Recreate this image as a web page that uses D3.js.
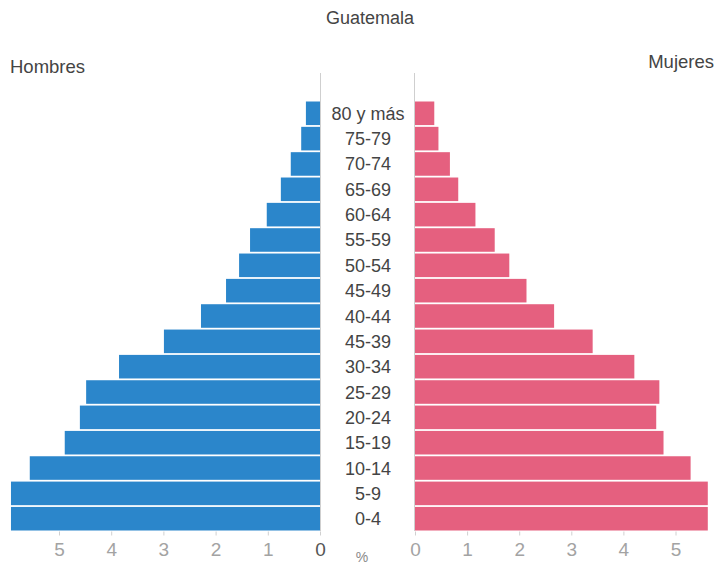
<!DOCTYPE html>
<html>
<head>
<meta charset="utf-8">
<script src="https://cdn.jsdelivr.net/npm/d3@7"></script>
<style>
  html, body { margin: 0; padding: 0; background: #ffffff; }
  svg { display: block; }
  text { font-family: "Liberation Sans", Arial, Helvetica, sans-serif; }
</style>
</head>
<body>
<svg id="chart" width="716" height="567"></svg>
<script>
const title = "Guatemala";
const leftLabel = "Hombres";
const rightLabel = "Mujeres";
const unitLabel = "%";
const ageGroups = ["80 y más","75-79","70-74","65-69","60-64","55-59","50-54","45-49","40-44","45-39","30-34","25-29","20-24","15-19","10-14","5-9","0-4"];
const men   = [0.27,0.36,0.56,0.75,1.02,1.34,1.55,1.80,2.28,2.99,3.85,4.48,4.60,4.89,5.56,5.92,5.92];
const women = [0.37,0.45,0.67,0.83,1.16,1.53,1.81,2.14,2.67,3.41,4.21,4.69,4.63,4.77,5.29,5.62,5.62];
const tickValues = [0,1,2,3,4,5];

const svg = d3.select("#chart");
const blue = "#2b86cb";
const pink = "#e5607f";

const y = d3.scaleBand().domain(ageGroups).range([101.5, 530.5]).paddingInner(0.07).paddingOuter(0);
const xL = d3.scaleLinear().domain([0, 6]).range([320, 320 - 6 * 52.2]);
const xR = d3.scaleLinear().domain([0, 6]).range([415, 415 + 6 * 52.1]);

// center guide lines
svg.append("line").attr("x1", 320.5).attr("x2", 320.5).attr("y1", 73).attr("y2", 531).attr("stroke", "#cfcfcf").attr("stroke-width", 1);
svg.append("line").attr("x1", 414.5).attr("x2", 414.5).attr("y1", 73).attr("y2", 531).attr("stroke", "#cfcfcf").attr("stroke-width", 1);

const data = ageGroups.map((a, i) => ({age: a, m: men[i], w: women[i]}));

svg.append("g").selectAll("rect").data(data).join("rect")
  .attr("x", d => xL(d.m))
  .attr("y", d => y(d.age))
  .attr("width", d => xL(0) - xL(d.m))
  .attr("height", y.bandwidth())
  .attr("fill", blue);

svg.append("g").selectAll("rect").data(data).join("rect")
  .attr("x", xR(0))
  .attr("y", d => y(d.age))
  .attr("width", d => xR(d.w) - xR(0))
  .attr("height", y.bandwidth())
  .attr("fill", pink);

svg.append("g").selectAll("text").data(data).join("text")
  .attr("x", 368)
  .attr("y", d => y(d.age) + y.bandwidth() / 2 + 6.5)
  .attr("text-anchor", "middle")
  .attr("font-size", 18)
  .attr("fill", "#444444")
  .text(d => d.age);

// axes
const axisL = d3.axisBottom(xL).tickValues(tickValues).tickSize(4).tickPadding(7).tickFormat(d3.format("d"));
const axisR = d3.axisBottom(xR).tickValues(tickValues).tickSize(4).tickPadding(7).tickFormat(d3.format("d"));
const gL = svg.append("g").attr("transform", "translate(0,531.5)").call(axisL);
const gR = svg.append("g").attr("transform", "translate(0,531.5)").call(axisR);
[gL, gR].forEach(g => {
  g.select(".domain").remove();
  g.selectAll(".tick line").attr("stroke", "#d0d0d0");
  g.selectAll(".tick text").attr("font-size", 19).attr("fill", "#a3a3a3")
    .attr("font-family", "'Liberation Sans Narrow', 'Liberation Sans', Arial, sans-serif");
});
gL.selectAll(".tick text").filter(d => d === 0).attr("fill", "#555555");

svg.append("text").attr("x", 362).attr("y", 562).attr("text-anchor", "middle")
  .attr("font-size", 14).attr("fill", "#8a8a8a").text(unitLabel);

svg.append("text").attr("x", 370).attr("y", 24).attr("text-anchor", "middle")
  .attr("font-size", 18).attr("fill", "#444").text(title);
svg.append("text").attr("x", 10).attr("y", 73).attr("text-anchor", "start")
  .attr("font-size", 18.5).attr("fill", "#444").text(leftLabel);
svg.append("text").attr("x", 714).attr("y", 68).attr("text-anchor", "end")
  .attr("font-size", 18.5).attr("fill", "#444").text(rightLabel);
</script>
</body>
</html>
